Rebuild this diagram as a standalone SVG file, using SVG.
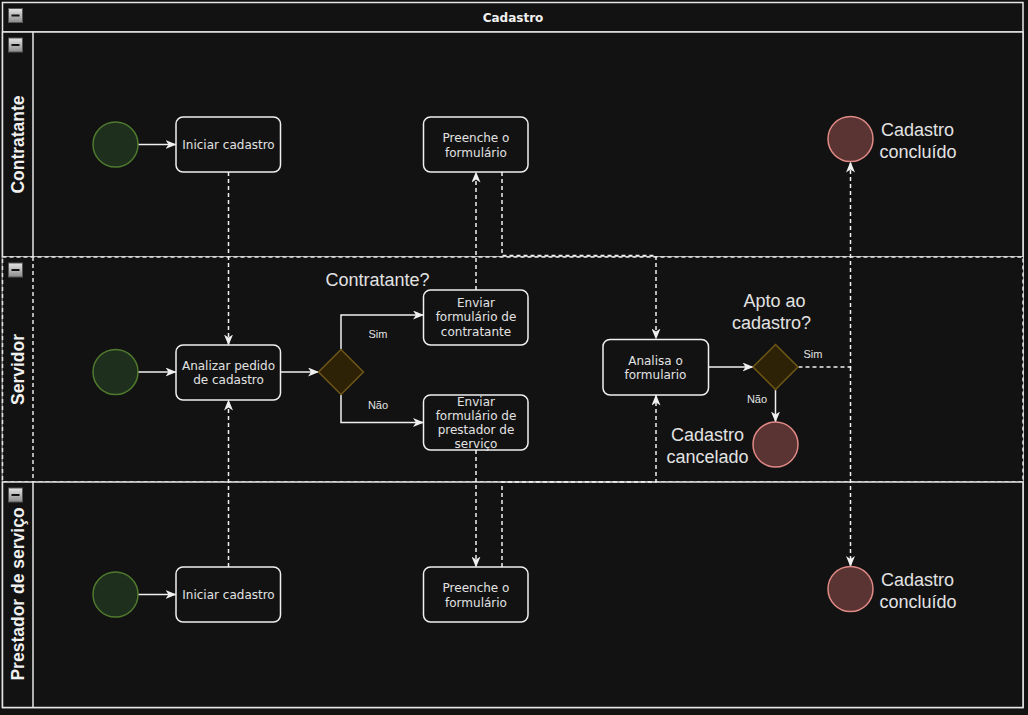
<svg xmlns="http://www.w3.org/2000/svg" width="1028" height="715" viewBox="0 0 1028 715">
  <defs>
    <linearGradient id="btnGrad" x1="0" y1="0" x2="0" y2="1">
      <stop offset="0" stop-color="#e4e4e4"/>
      <stop offset="1" stop-color="#8c8c8c"/>
    </linearGradient>
    <marker id="arrow" viewBox="0 0 11 9" refX="10.5" refY="4.5" markerWidth="11" markerHeight="9" markerUnits="userSpaceOnUse" orient="auto">
      <path d="M0,0 L11,4.5 L0,9 L3,4.5 Z" fill="#f0f0f0"/>
    </marker>
    <g id="collapse">
      <rect x="0" y="0" width="14" height="14" fill="url(#btnGrad)" stroke="#555" stroke-width="1"/>
      <rect x="3" y="6" width="8" height="2" fill="#111"/>
    </g>
  </defs>
  <style>
    .lane { fill: #121212; stroke: #e6e6e6; stroke-width: 1.5; }
    .lane-dash { fill: none; stroke: #e6e6e6; stroke-width: 1.5; stroke-dasharray: 4 3; }
    .lane-title { font-family: "Liberation Sans", Arial, sans-serif; font-weight: bold; font-size: 17.5px; fill: #f0f0f0; text-anchor: middle; }
    .pool-title { font-family: "DejaVu Sans", sans-serif; font-weight: bold; font-size: 12px; fill: #f0f0f0; text-anchor: middle; }
    .task { fill: #121212; stroke: #f0f0f0; stroke-width: 1.5; }
    .task-text { font-family: "DejaVu Sans", sans-serif; font-size: 12px; fill: #e2e2e2; text-anchor: middle; }
    .start { fill: #1f2f1d; stroke: #4f7a2e; stroke-width: 1.5; }
    .end { fill: #5a3333; stroke: #e08a86; stroke-width: 1.5; }
    .gate { fill: #2e2206; stroke: #6f5716; stroke-width: 1.5; }
    .big-label { font-family: "Liberation Sans", Arial, sans-serif; font-size: 18px; fill: #e2e2e2; }
    .small-label { font-family: "Liberation Sans", Arial, sans-serif; font-size: 11px; fill: #e2e2e2; text-anchor: middle; }
    .flow { fill: none; stroke: #f0f0f0; stroke-width: 1.5; }
    .msg { fill: none; stroke: #f0f0f0; stroke-width: 1.5; stroke-dasharray: 4 3; }
  </style>

  <rect x="0" y="0" width="1028" height="715" fill="#121212"/>

  <!-- Pool -->
  <g id="pool">
    <rect class="lane" x="2.5" y="2.5" width="1020.5" height="705"/>
    <line class="lane" x1="2.5" y1="32" x2="1023" y2="32"/>
    <use href="#collapse" x="8.5" y="8.5"/>
    <text class="pool-title" x="513" y="21.5">Cadastro</text>
  </g>

  <!-- Lanes -->
  <g id="lane-contratante">
    <rect class="lane" x="2.5" y="32" width="1020.5" height="225"/>
    <line class="lane" x1="33" y1="32" x2="33" y2="257"/>
    <use href="#collapse" x="8.5" y="38"/>
    <text class="lane-title" transform="translate(24,144.5) rotate(-90)">Contratante</text>
  </g>
  <g id="lane-servidor">
    <rect class="lane" x="2.5" y="257" width="1020.5" height="225" style="stroke:none"/>
    <rect class="lane-dash" x="2.5" y="257" width="1020.5" height="225"/>
    <line class="lane-dash" x1="33" y1="257" x2="33" y2="482"/>
    <use href="#collapse" x="8.5" y="263"/>
    <text class="lane-title" transform="translate(24,369.5) rotate(-90)">Servidor</text>
  </g>
  <g id="lane-prestador">
    <rect class="lane" x="2.5" y="482" width="1020.5" height="225.5"/>
    <line class="lane" x1="33" y1="482" x2="33" y2="707.5"/>
    <use href="#collapse" x="8.5" y="488"/>
    <text class="lane-title" transform="translate(24,594) rotate(-90)">Prestador de serviço</text>
  </g>

  <!-- Connectors -->
  <g id="connectors">
    <path class="flow" d="M138,144.5 H176" marker-end="url(#arrow)"/>
    <path class="msg" d="M228.5,172 V345" marker-end="url(#arrow)"/>
    <path class="msg" d="M228.5,567 V400" marker-end="url(#arrow)"/>
    <path class="flow" d="M138,372 H176" marker-end="url(#arrow)"/>
    <path class="flow" d="M138,594.5 H176" marker-end="url(#arrow)"/>
    <path class="flow" d="M281,372 H318.5" marker-end="url(#arrow)"/>
    <path class="flow" d="M341,349.5 V315 H423.5" marker-end="url(#arrow)"/>
    <path class="flow" d="M341,394.5 V422.5 H423.5" marker-end="url(#arrow)"/>
    <path class="msg" d="M476,290 V172" marker-end="url(#arrow)"/>
    <path class="msg" d="M476,450 V567" marker-end="url(#arrow)"/>
    <path class="msg" d="M502,172 V255.5 H656 V339" marker-end="url(#arrow)"/>
    <path class="msg" d="M502,567 V482 H656 V395" marker-end="url(#arrow)"/>
    <path class="flow" d="M708.5,367 H753" marker-end="url(#arrow)"/>
    <path class="flow" d="M775.5,389.5 V422" marker-end="url(#arrow)"/>
    <path class="msg" d="M798.5,367 H850.5 V162" marker-end="url(#arrow)"/>
    <path class="msg" d="M850.5,367 V566.5" marker-end="url(#arrow)"/>
    <text class="small-label" x="378" y="338">Sim</text>
    <text class="small-label" x="378" y="409">Não</text>
    <text class="small-label" x="813" y="358">Sim</text>
    <text class="small-label" x="757" y="403">Não</text>
  </g>

  <!-- Contratante lane nodes -->
  <g id="start-contratante">
    <circle class="start" cx="115.5" cy="144.5" r="22.5"/>
  </g>
  <g id="task-iniciar-contratante">
    <rect class="task" x="176" y="117" width="104.5" height="55" rx="7"/>
    <text class="task-text" x="228.5" y="149">Iniciar cadastro</text>
  </g>
  <g id="task-preenche-contratante">
    <rect class="task" x="423.5" y="117" width="104.5" height="55" rx="7"/>
    <text class="task-text" x="476" y="142">Preenche o</text>
    <text class="task-text" x="476" y="156.5">formulário</text>
  </g>
  <g id="end-contratante">
    <circle class="end" cx="850.5" cy="139" r="22.5"/>
    <text class="big-label" x="881" y="136">Cadastro</text>
    <text class="big-label" x="879.5" y="158">concluído</text>
  </g>

  <!-- Servidor lane nodes -->
  <g id="start-servidor">
    <circle class="start" cx="115.5" cy="372" r="22.5"/>
  </g>
  <g id="task-analizar-pedido">
    <rect class="task" x="176" y="345" width="104.5" height="55" rx="7"/>
    <text class="task-text" x="228.5" y="369.5">Analizar pedido</text>
    <text class="task-text" x="228.5" y="384">de cadastro</text>
  </g>
  <g id="gate-contratante">
    <path class="gate" d="M341,349.5 L363.5,372 L341,394.5 L318.5,372 Z"/>
    <text class="big-label" x="377.5" y="286" text-anchor="middle">Contratante?</text>
  </g>
  <g id="task-enviar-contratante">
    <rect class="task" x="423.5" y="290" width="104.5" height="55" rx="7"/>
    <text class="task-text" x="476" y="306.5">Enviar</text>
    <text class="task-text" x="476" y="321">formulário de</text>
    <text class="task-text" x="476" y="335.5">contratante</text>
  </g>
  <g id="task-enviar-prestador">
    <rect class="task" x="423.5" y="395" width="104.5" height="55" rx="7"/>
    <text class="task-text" x="476" y="406">Enviar</text>
    <text class="task-text" x="476" y="420">formulário de</text>
    <text class="task-text" x="476" y="434">prestador de</text>
    <text class="task-text" x="476" y="448">serviço</text>
  </g>
  <g id="task-analisa-formulario">
    <rect class="task" x="603" y="339.5" width="105.5" height="55.5" rx="7"/>
    <text class="task-text" x="655.5" y="364.5">Analisa o</text>
    <text class="task-text" x="655.5" y="379">formulario</text>
  </g>
  <g id="gate-apto">
    <path class="gate" d="M775.5,344.5 L798,367 L775.5,389.5 L753,367 Z"/>
    <text class="big-label" x="774.5" y="306.5" text-anchor="middle">Apto ao</text>
    <text class="big-label" x="771.5" y="328.5" text-anchor="middle">cadastro?</text>
  </g>
  <g id="end-cancelado">
    <circle class="end" cx="775.5" cy="444.5" r="22.5"/>
    <text class="big-label" x="707.5" y="440.5" text-anchor="middle">Cadastro</text>
    <text class="big-label" x="707.5" y="462.5" text-anchor="middle">cancelado</text>
  </g>

  <!-- Prestador lane nodes -->
  <g id="start-prestador">
    <circle class="start" cx="115.5" cy="594.5" r="22.5"/>
  </g>
  <g id="task-iniciar-prestador">
    <rect class="task" x="176" y="567" width="104.5" height="55" rx="7"/>
    <text class="task-text" x="228.5" y="599">Iniciar cadastro</text>
  </g>
  <g id="task-preenche-prestador">
    <rect class="task" x="423.5" y="567" width="104.5" height="55" rx="7"/>
    <text class="task-text" x="476" y="592">Preenche o</text>
    <text class="task-text" x="476" y="606.5">formulário</text>
  </g>
  <g id="end-prestador">
    <circle class="end" cx="850.5" cy="589" r="22.5"/>
    <text class="big-label" x="881" y="586">Cadastro</text>
    <text class="big-label" x="879.5" y="608">concluído</text>
  </g>
</svg>
